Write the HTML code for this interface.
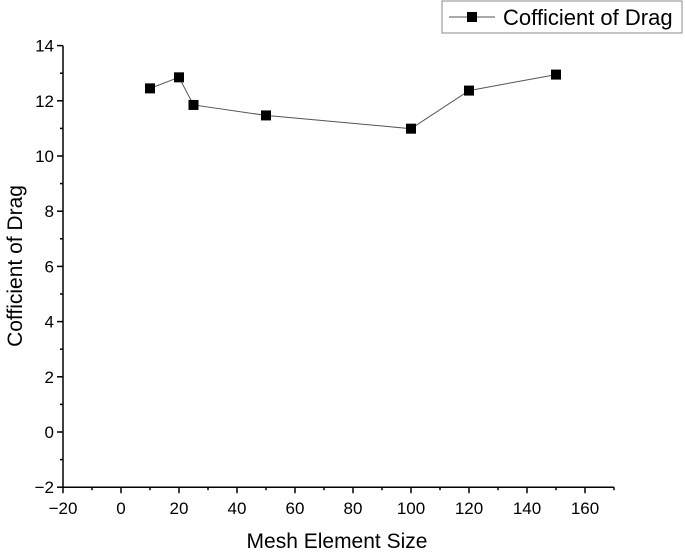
<!DOCTYPE html>
<html><head><meta charset="utf-8"><style>
body{margin:0;background:#fff;}
text{font-family:"Liberation Sans",sans-serif;fill:#000;}
</style></head><body>
<svg id="chart" width="685" height="554" xmlns="http://www.w3.org/2000/svg">
<g id="axes"></g>
<g id="series"></g>
<g id="legend">
<rect x="442" y="1" width="240" height="32" fill="#fff" stroke="#888" stroke-width="1"/>
<line x1="449" y1="17" x2="495" y2="17" stroke="#555" stroke-width="1"/>
<rect x="467" y="12" width="10" height="10" fill="#000"/>
<text x="503" y="25" font-size="22">Cofficient of Drag</text>
</g>
<text x="337" y="548" font-size="21" text-anchor="middle">Mesh Element Size</text>
<text transform="translate(22,266) rotate(-90)" font-size="21" text-anchor="middle">Cofficient of Drag</text>
</svg>
<script>
const xValues=[10,20,25,50,100,120,150];
const yValues=[12.45,12.85,11.85,11.47,10.99,12.37,12.95];
const xTicks=[-20,0,20,40,60,80,100,120,140,160];
const yTicks=[-2,0,2,4,6,8,10,12,14];
const NS="http://www.w3.org/2000/svg";
function sx(v){return 121+(v)*2.9;}
function sy(v){return 432-v*27.6;}
function mk(tag,attrs,parent){const e=document.createElementNS(NS,tag);for(const k in attrs)e.setAttribute(k,attrs[k]);parent.appendChild(e);return e;}
const axes=document.getElementById('axes');
const x0=sx(-20),x1=sx(170),yb=sy(-2),yt=sy(14);
let a=mk('line',{x1:x0,y1:yb,x2:x1,y2:yb,stroke:'#000','stroke-width':1.5},axes);


a=mk('line',{x1:x0,y1:yb,x2:x0,y2:yt,stroke:'#000','stroke-width':1.5},axes);


for(let v=-20;v<=170;v+=10){const maj=xTicks.includes(v);mk('line',{x1:sx(v),y1:yb,x2:sx(v),y2:yb+(maj?6:3),stroke:'#000','stroke-width':1.5},axes);}
xTicks.forEach(v=>{const t=mk('text',{x:sx(v),y:yb+27,'font-size':17,'text-anchor':'middle'},axes);t.textContent=String(v).replace('-','\u2212');

});
for(let v=-2;v<=14;v+=1){const maj=yTicks.includes(v);mk('line',{x1:x0,y1:sy(v),x2:x0-(maj?6:3),y2:sy(v),stroke:'#000','stroke-width':1.5},axes);}
yTicks.forEach(v=>{const t=mk('text',{x:x0-9,y:sy(v)+6,'font-size':17,'text-anchor':'end'},axes);t.textContent=String(v).replace('-','\u2212');

});
const ser=document.getElementById('series');
const pl=mk('polyline',{points:xValues.map((x,i)=>sx(x)+','+sy(yValues[i])).join(' '),fill:'none',stroke:'#555','stroke-width':1},ser);


xValues.forEach((x,i)=>{const r=mk('rect',{x:sx(x)-5,y:sy(yValues[i])-5,width:10,height:10,fill:'#000'},ser);

});
</script>
</body></html>
